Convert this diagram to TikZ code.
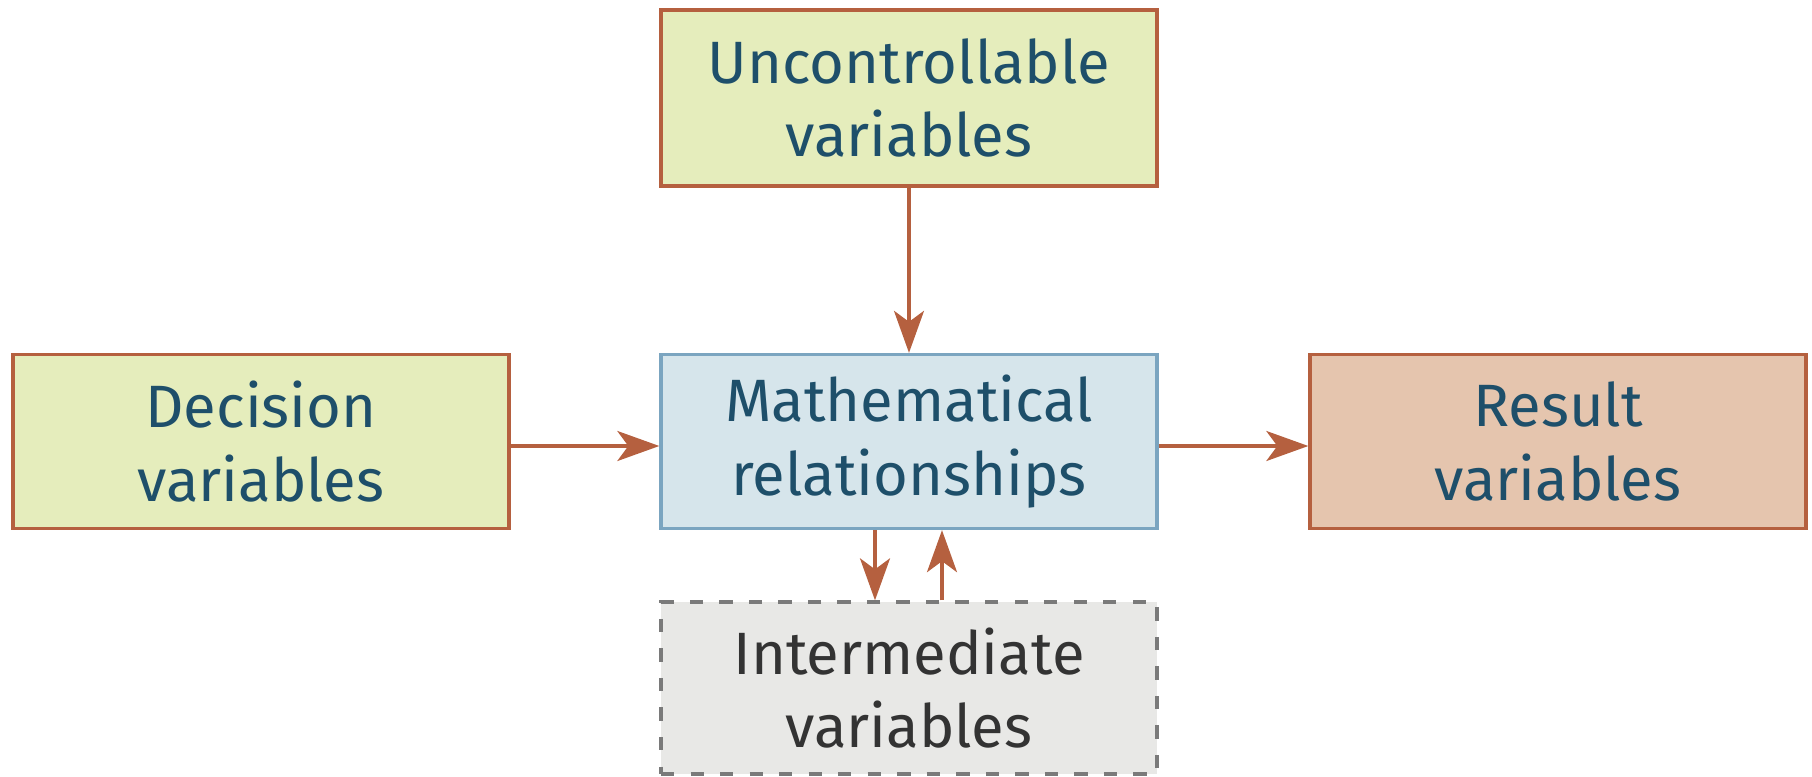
\documentclass[tikz,border=0pt]{standalone}
\usepackage{fontspec}
\setmainfont{Fira Sans}
\usetikzlibrary{arrows.meta}
\definecolor{boxgreen}{HTML}{E5EDBC}
\definecolor{boxblue}{HTML}{D6E5EB}
\definecolor{boxpeach}{HTML}{E5C5AE}
\definecolor{boxgray}{HTML}{E8E8E6}
\definecolor{brownline}{HTML}{B5603F}
\definecolor{blueline}{HTML}{7BA5C0}
\definecolor{grayline}{HTML}{7A7A7A}
\definecolor{tealtext}{HTML}{1E4F6A}
\definecolor{darktext}{HTML}{333333}
\tikzset{
  varbox/.style={draw=brownline, line width=0.95pt, minimum width=4.96cm, minimum height=1.74cm,
    align=center, text=tealtext, font=\fontsize{17}{21}\selectfont, inner sep=0pt},
  greenbox/.style={varbox, fill=boxgreen},
  mathbox/.style={varbox, fill=boxblue, draw=blueline},
  resbox/.style={varbox, fill=boxpeach},
  interbox/.style={varbox, fill=boxgray, draw=grayline, dash pattern=on 3.8pt off 4.6pt, text=darktext},
  conn/.style={draw=brownline, line width=0.95pt, -{Stealth[length=4.2mm,width=3mm,inset=1.1mm]}}
}
\begin{document}
\begin{tikzpicture}
\useasboundingbox (0,0) rectangle (18.12,-7.76);
\node[greenbox] (unc) at (9.09,-0.98) [minimum height=1.76cm] {Uncontrollable\\variables};
\node[greenbox] (dec) at (2.61,-4.415) {Decision\\variables};
\node[mathbox] (math) at (9.09,-4.415) {Mathematical\\relationships};
\node[resbox] (res) at (15.58,-4.415) {Result\\variables};
\node[interbox] (inter) at (9.09,-6.88) [minimum height=1.72cm] {Intermediate\\variables};
\draw[conn] (unc.south) -- (math.north);
\draw[conn] ([yshift=-0.045cm]dec.east) -- ([yshift=-0.045cm]math.west);
\draw[conn] ([yshift=-0.045cm]math.east) -- ([yshift=-0.045cm]res.west);
\draw[conn] ([xshift=-0.34cm]math.south) -- ([xshift=-0.34cm]inter.north);
\draw[conn] ([xshift=0.33cm]inter.north) -- ([xshift=0.33cm]math.south);
\end{tikzpicture}
\end{document}
